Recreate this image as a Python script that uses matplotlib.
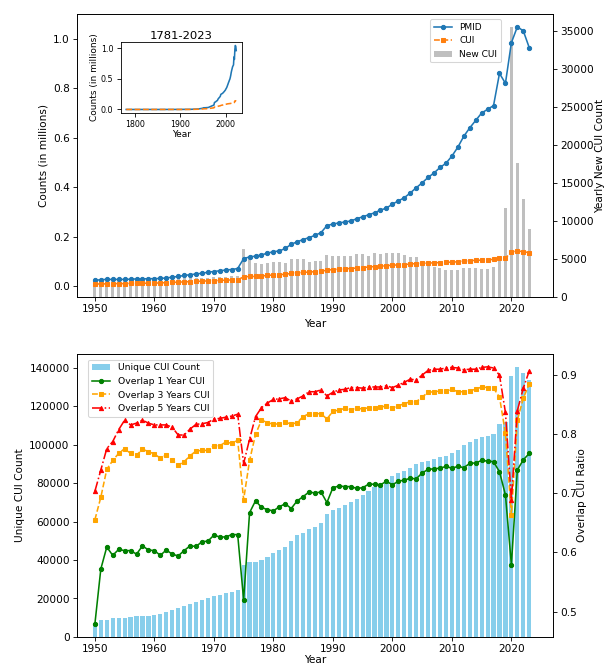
import matplotlib
matplotlib.use("Agg")
import matplotlib.pyplot as plt

# ---- data ----
years = list(range(1950, 2024))

pmid = [0.024, 0.027, 0.028, 0.028, 0.028, 0.028, 0.029, 0.030, 0.030, 0.031,
        0.031, 0.032, 0.034, 0.037, 0.040, 0.044, 0.047, 0.050, 0.053, 0.057,
        0.060, 0.063, 0.066, 0.068, 0.072, 0.112, 0.119, 0.122, 0.127, 0.134,
        0.140, 0.143, 0.153, 0.170, 0.180, 0.189, 0.197, 0.206, 0.217, 0.245,
        0.252, 0.256, 0.260, 0.264, 0.273, 0.281, 0.289, 0.297, 0.308, 0.316,
        0.332, 0.345, 0.358, 0.377, 0.398, 0.418, 0.440, 0.458, 0.480, 0.497,
        0.526, 0.562, 0.606, 0.640, 0.670, 0.700, 0.715, 0.730, 0.860, 0.820,
        0.984, 1.048, 1.032, 0.964]

cui = [0.009, 0.010, 0.010, 0.011, 0.011, 0.011, 0.012, 0.012, 0.012, 0.013,
       0.013, 0.014, 0.015, 0.016, 0.017, 0.018, 0.019, 0.020, 0.021, 0.022,
       0.023, 0.024, 0.025, 0.026, 0.027, 0.038, 0.040, 0.040, 0.042, 0.044,
       0.046, 0.047, 0.049, 0.052, 0.055, 0.056, 0.058, 0.059, 0.061, 0.065,
       0.068, 0.069, 0.071, 0.072, 0.074, 0.076, 0.078, 0.080, 0.081, 0.084,
       0.085, 0.087, 0.088, 0.090, 0.092, 0.093, 0.094, 0.095, 0.096, 0.097,
       0.098, 0.099, 0.102, 0.104, 0.105, 0.106, 0.107, 0.109, 0.113, 0.114,
       0.139, 0.143, 0.140, 0.136]

new_cui = [2200, 2100, 2150, 2150, 2200, 2200, 2250, 2250, 2250, 2300,
           2300, 2350, 2350, 2400, 2450, 2450, 2500, 2500, 2550, 2550,
           2600, 2600, 2650, 2700, 2750, 6300, 5300, 4500, 4400, 4500,
           4550, 4600, 4500, 5050, 5050, 4950, 4650, 4750, 4700, 5500,
           5450, 5450, 5450, 5400, 5600, 5600, 5450, 5850, 5650, 5850,
           5850, 5850, 5500, 5300, 5300, 4650, 4450, 3950, 3850, 3600,
           3550, 3500, 3800, 3800, 3800, 3700, 3750, 4000, 5100, 11700,
           35500, 17600, 12900, 8950]

# inset: full range 1781-2023 (pre-1950 part is flat near zero)
early_years = [1781, 1800, 1850, 1900, 1925, 1940, 1949]
early_pmid = [0.0, 0.0, 0.0, 0.001, 0.003, 0.008, 0.020]
early_cui = [0.0, 0.0, 0.0, 0.0, 0.001, 0.004, 0.008]

unique_cui = [6900, 9000, 9000, 9700, 9700, 10000, 10200, 10750, 10750, 11100,
              11600, 12150, 12850, 14100, 15300, 16300, 17200, 18250, 19300, 20150,
              21200, 21900, 22750, 23450, 24500, 37200, 39000, 39000, 40200, 41800,
              43700, 45300, 46800, 50000, 52800, 54200, 55900, 57300, 59200, 64150,
              65900, 66900, 68650, 69900, 71600, 73900, 75950, 77700, 79450, 81500,
              83450, 85000, 86400, 87800, 89900, 91100, 91600, 92500, 93400, 94200,
              95450, 97200, 99950, 101500, 102900, 103800, 104300, 105500, 110750, 112000,
              135800, 140100, 137200, 133700]

overlap_1 = [0.479, 0.572, 0.609, 0.595, 0.605, 0.603, 0.603, 0.597, 0.611, 0.604,
             0.603, 0.595, 0.604, 0.597, 0.594, 0.603, 0.611, 0.610, 0.618, 0.619,
             0.629, 0.626, 0.626, 0.630, 0.630, 0.520, 0.667, 0.687, 0.676, 0.672,
             0.670, 0.677, 0.682, 0.674, 0.687, 0.694, 0.702, 0.700, 0.702, 0.684,
             0.709, 0.712, 0.711, 0.711, 0.708, 0.709, 0.715, 0.715, 0.714, 0.720,
             0.714, 0.720, 0.722, 0.725, 0.724, 0.734, 0.740, 0.741, 0.742, 0.745,
             0.742, 0.745, 0.743, 0.750, 0.751, 0.755, 0.754, 0.753, 0.736, 0.697,
             0.579, 0.739, 0.756, 0.767]

overlap_3 = [0.655, 0.693, 0.740, 0.755, 0.767, 0.775, 0.767, 0.764, 0.774, 0.770,
             0.766, 0.759, 0.764, 0.755, 0.747, 0.753, 0.763, 0.771, 0.772, 0.772,
             0.780, 0.780, 0.786, 0.784, 0.789, 0.689, 0.755, 0.799, 0.823, 0.819,
             0.816, 0.817, 0.820, 0.816, 0.819, 0.829, 0.834, 0.834, 0.834, 0.825,
             0.838, 0.840, 0.843, 0.841, 0.843, 0.842, 0.844, 0.844, 0.845, 0.847,
             0.844, 0.847, 0.851, 0.854, 0.854, 0.862, 0.870, 0.871, 0.872, 0.872,
             0.875, 0.871, 0.871, 0.873, 0.875, 0.879, 0.878, 0.877, 0.862, 0.801,
             0.663, 0.823, 0.860, 0.884]

overlap_5 = [0.703, 0.739, 0.775, 0.787, 0.807, 0.823, 0.815, 0.818, 0.823, 0.818,
             0.815, 0.815, 0.815, 0.811, 0.798, 0.798, 0.808, 0.816, 0.817, 0.819,
             0.825, 0.826, 0.828, 0.830, 0.833, 0.750, 0.791, 0.829, 0.844, 0.852,
             0.858, 0.859, 0.861, 0.855, 0.859, 0.864, 0.871, 0.871, 0.874, 0.864,
             0.870, 0.874, 0.875, 0.878, 0.878, 0.877, 0.879, 0.879, 0.879, 0.881,
             0.878, 0.882, 0.887, 0.892, 0.891, 0.899, 0.907, 0.909, 0.909, 0.911,
             0.912, 0.911, 0.908, 0.909, 0.909, 0.912, 0.913, 0.911, 0.899, 0.836,
             0.689, 0.839, 0.877, 0.906]

fig = plt.figure(figsize=(8, 8.766), dpi=75.75)

# ---------- top panel ----------
ax = fig.add_axes([0.1271, 0.5527, 0.7855, 0.4262])
ax2 = ax.twinx()
b = ax2.bar(years, new_cui, width=0.5, color="gray", alpha=0.5, label="New CUI")
l1, = ax.plot(years, pmid, "o-", color="#1f77b4", ms=4, label="PMID")
l2, = ax.plot(years, cui, "s--", color="#ff7f0e", ms=4, label="CUI")
ax.set_zorder(ax2.get_zorder() + 1)
ax.patch.set_visible(False)
ax.set_xlim(1947, 2027)
ax.set_xlabel("Year")
ax.set_ylabel("Counts (in millions)")
ax2.set_ylabel("Yearly New CUI Count", labelpad=1)
ax.legend([l1, l2, b], ["PMID", "CUI", "New CUI"], loc="upper right",
          bbox_to_anchor=(0.89, 0.981), borderaxespad=0, fontsize=8.5)

# inset with the full range
axi = fig.add_axes([0.1992, 0.8303, 0.1997, 0.106])
axi.plot(early_years + years, early_pmid + pmid, "-", color="#1f77b4")
axi.plot(early_years + years, early_cui + cui, "--", color="#ff7f0e")
axi.set_xticks([1800, 1900, 2000])
axi.set_yticks([0.0, 0.5, 1.0])
axi.tick_params(labelsize=7.5)
axi.set_title("1781-2023", fontsize=11, pad=3)
axi.set_xlabel("Year", fontsize=8.5, labelpad=1)
axi.set_ylabel("Counts (in millions)", fontsize=8.5, labelpad=2)

# ---------- bottom panel ----------
bx = fig.add_axes([0.1271, 0.0407, 0.7855, 0.4262])
bx2 = bx.twinx()
bb = bx.bar(years, unique_cui, width=0.7, color="skyblue", label="Unique CUI Count")
g1, = bx2.plot(years, overlap_1, "o-", color="green", ms=4, label="Overlap 1 Year CUI")
g3, = bx2.plot(years, overlap_3, "s--", color="orange", ms=4, label="Overlap 3 Years CUI")
g5, = bx2.plot(years, overlap_5, "^-.", color="red", ms=4, label="Overlap 5 Years CUI")
bx.set_xlim(1947, 2027)
bx.set_xlabel("Year", labelpad=1)
bx.set_ylabel("Unique CUI Count")
bx2.set_ylabel("Overlap CUI Ratio", labelpad=0)
bx2.legend([bb, g1, g3, g5], [h.get_label() for h in [bb, g1, g3, g5]],
           loc="upper left", bbox_to_anchor=(0.023, 0.98), borderaxespad=0,
           fontsize=8.8)

fig.savefig("out.png", dpi=75.75)
